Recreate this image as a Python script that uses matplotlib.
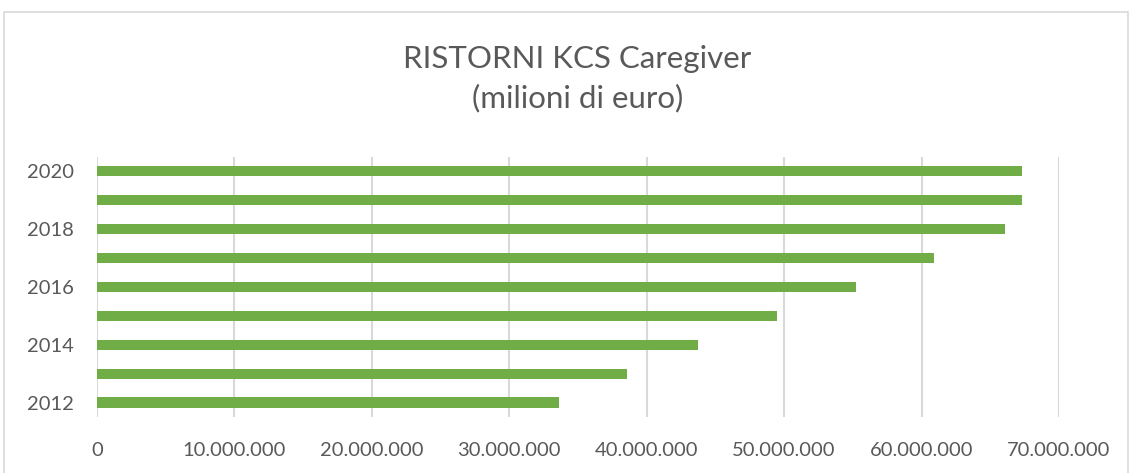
import matplotlib
matplotlib.use("Agg")
import matplotlib.pyplot as plt
from matplotlib.patches import Rectangle
from matplotlib.ticker import FuncFormatter

years = [2012, 2013, 2014, 2015, 2016, 2017, 2018, 2019, 2020]
ristorni = [33.6e6, 38.6e6, 43.7e6, 49.5e6, 55.2e6, 60.9e6, 66.1e6, 67.3e6, 67.3e6]
title_lines = ["RISTORNI KCS Caregiver", "(milioni di euro)"]

plt.rcParams["font.family"] = ["Lato", "DejaVu Sans"]

GREEN = "#70AD47"
GRID = "#D9D9D9"
TEXT = "#595959"

fig = plt.figure(figsize=(11.32, 4.73), dpi=100)
ax = fig.add_axes([0.0857, 0.1184, 0.8498, 0.5497])

pos = list(range(len(years)))
ax.barh(pos, ristorni, height=0.35, color=GREEN, zorder=3)

ax.set_xlim(0, 70e6)
ax.set_ylim(-0.5, len(years) - 0.5)
ax.set_xticks([i * 10e6 for i in range(8)])
ax.xaxis.set_major_formatter(
    FuncFormatter(lambda v, _: "0" if v == 0 else f"{int(v):,}".replace(",", "."))
)
ax.set_yticks(pos)
ax.set_yticklabels([str(y) if y % 2 == 0 else "" for y in years])

ax.grid(axis="x", color=GRID, linewidth=1.5, zorder=0)
ax.tick_params(length=0, labelsize=14.5, colors=TEXT)
ax.tick_params(axis="x", pad=18)
ax.tick_params(axis="y", pad=16.5)
for s in ax.spines.values():
    s.set_visible(False)

fig.text(0.51, 1 - 68 / 473, title_lines[0], ha="center", va="baseline",
         fontsize=22.5, color=TEXT)
fig.text(0.51, 1 - 107 / 473, title_lines[1], ha="center", va="baseline",
         fontsize=22.5, color=TEXT)

# chart border
fig.patches.append(Rectangle((4 / 1132, -0.01), 1124 / 1132, 1 - 12 / 473 + 0.01,
                             transform=fig.transFigure, fill=False,
                             edgecolor=GRID, linewidth=1.2))

fig.savefig("out.png", dpi=100)
